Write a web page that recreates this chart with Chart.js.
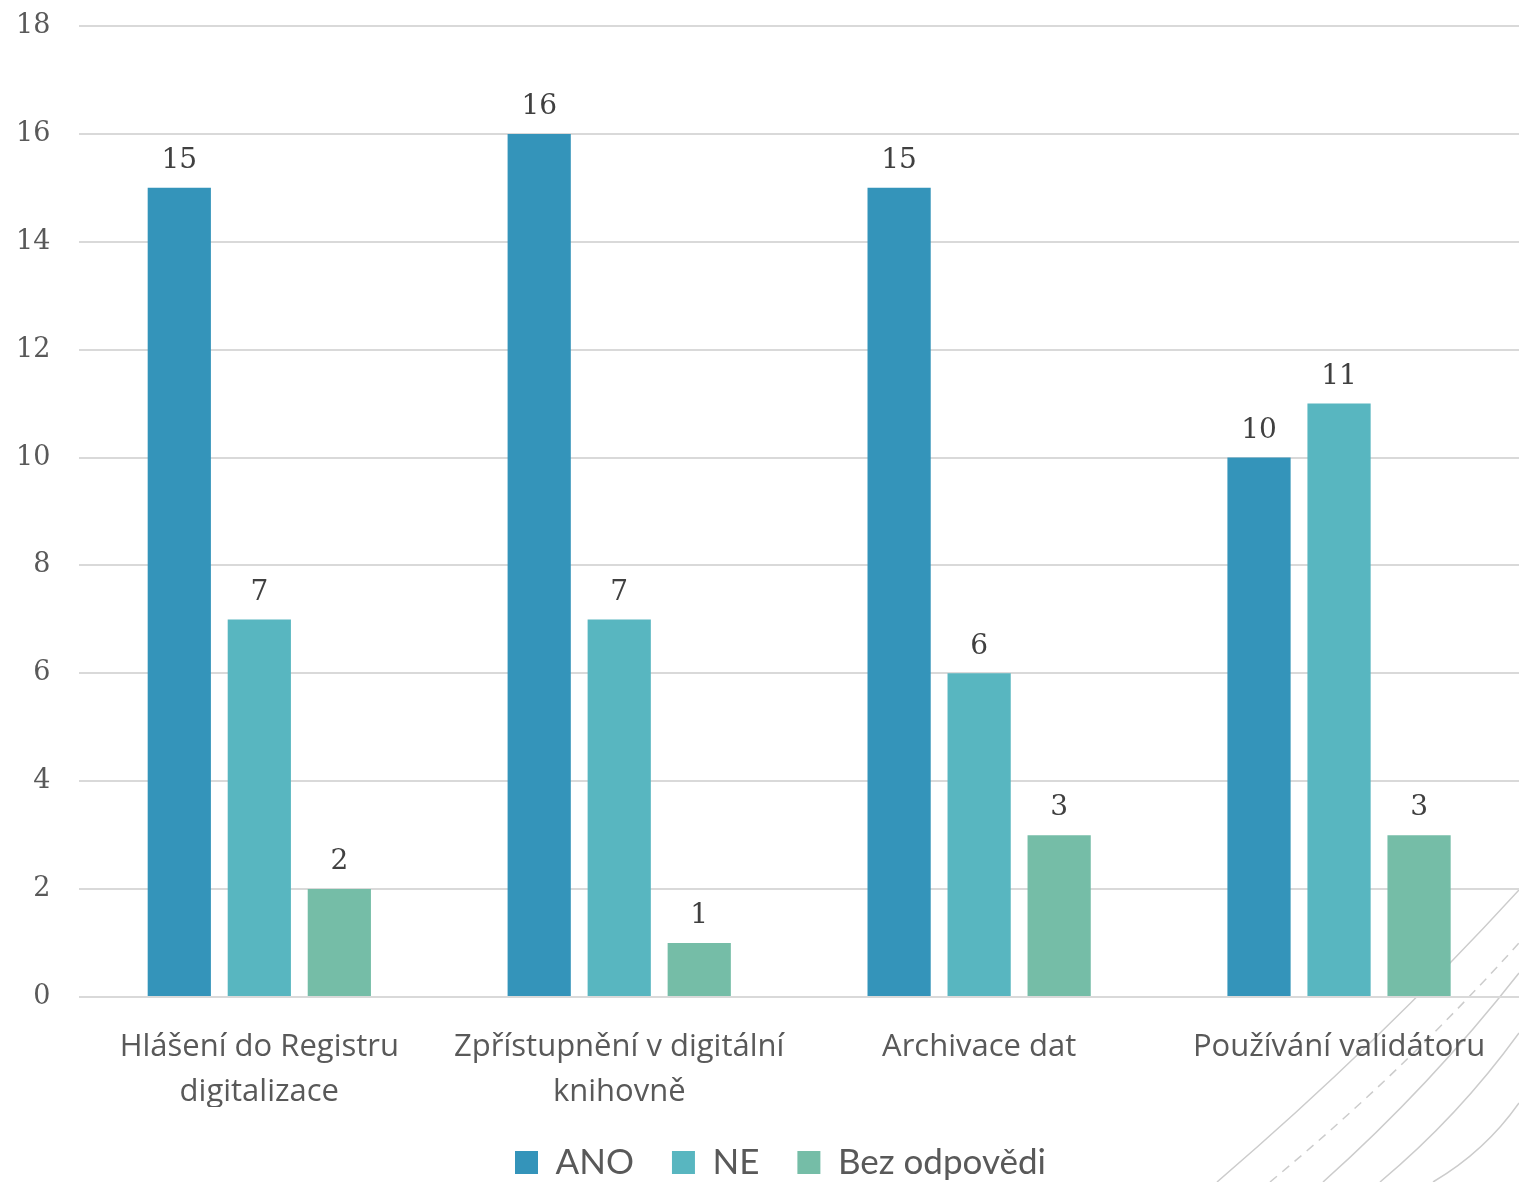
<!DOCTYPE html>
<html>
<head>
<meta charset="utf-8">
<script src="https://cdn.jsdelivr.net/npm/chart.js@4.4.1/dist/chart.umd.min.js"></script>
<style>
  html, body { margin: 0; padding: 0; background: #ffffff; }
  #wrap { width: 1519px; height: 1182px; position: relative; }
</style>
</head>
<body>
<div id="wrap"><canvas id="surveyChart"></canvas></div>
<script>
// data
const categories = [
    ['Hlášení do Registru', 'digitalizace'],
    ['Zpřístupnění v digitální', 'knihovně'],
    'Archivace dat',
    'Používání validátoru'
];
const seriesNames = ['ANO', 'NE', 'Bez odpovědi'];
const anoValues = [15, 16, 15, 10];
const neValues = [7, 7, 6, 11];
const bezValues = [2, 1, 3, 3];
const yTicks = [0, 2, 4, 6, 8, 10, 12, 14, 16, 18];

const colors = ['#3494BA', '#58B6C0', '#75BDA7'];

// values above each bar
const valueLabels = {
    id: 'valueLabels',
    afterDatasetsDraw(chart) {
        const ctx = chart.ctx;
        ctx.save();
        ctx.font = '28px "DejaVu Serif"';
        ctx.fillStyle = '#404040';
        ctx.textAlign = 'center';
        ctx.textBaseline = 'bottom';
        chart.data.datasets.forEach(function(ds, i) {
            chart.getDatasetMeta(i).data.forEach(function(bar, j) {
                ctx.fillText(ds.data[j], bar.x, bar.y - 13);
            });
        });
        ctx.restore();
    }
};

// legend sits a little right of the canvas centre in the original
const legendShift = {
    id: 'legendShift',
    afterLayout(chart) {
        chart.legend.left += 55;
    }
};

// faint curved decoration in the bottom-right corner
const cornerLines = {
    id: 'cornerLines',
    beforeDraw(chart) {
        const ctx = chart.ctx;
        const w = chart.width, h = chart.height;
        // start x on the bottom edge, end y on the right edge, dashed?
        const curves = [
            [1217, 890, false],
            [1270, 943, true],
            [1323, 973, false],
            [1380, 1033, false],
            [1433, 1103, false]
        ];
        ctx.save();
        ctx.strokeStyle = '#cccccc';
        ctx.lineWidth = 1.5;
        curves.forEach(function(c) {
            const mx = (c[0] + w) / 2, my = (h + c[1]) / 2;
            ctx.setLineDash(c[2] ? [9, 7] : []);
            ctx.beginPath();
            ctx.moveTo(c[0], h);
            ctx.quadraticCurveTo(mx + 9, my + 9, w, c[1]);
            ctx.stroke();
        });
        ctx.restore();
    }
};

const ctx = document.getElementById('surveyChart').getContext('2d');
new Chart(ctx, {
    type: 'bar',
    data: {
        labels: categories,
        datasets: [
            { label: seriesNames[0], data: anoValues, backgroundColor: colors[0] },
            { label: seriesNames[1], data: neValues, backgroundColor: colors[1] },
            { label: seriesNames[2], data: bezValues, backgroundColor: colors[2] }
        ]
    },
    options: {
        responsive: true,
        maintainAspectRatio: false,
        animation: false,
        devicePixelRatio: 1,
        datasets: {
            bar: { categoryPercentage: 0.667, barPercentage: 0.79 }
        },
        layout: { padding: { top: 0, left: -13, right: 0, bottom: -8 } },
        plugins: {
            legend: {
                position: 'bottom',
                labels: {
                    boxWidth: 23,
                    boxHeight: 23,
                    padding: 38,
                    color: '#595959',
                    font: { family: 'Lato', size: 35 }
                }
            },
            tooltip: { enabled: false }
        },
        scales: {
            x: {
                grid: { display: false },
                border: { display: false },
                afterFit(scale) { scale.height = 110; },
                ticks: {
                    color: '#595959',
                    font: { family: '"Open Sans"', size: 31, lineHeight: 1.45 },
                    padding: 20,
                    maxRotation: 0
                }
            },
            y: {
                min: 0,
                max: 18,
                afterBuildTicks(axis) {
                    axis.ticks = yTicks.map(function(v) { return { value: v }; });
                },
                afterFit(scale) {
                    scale.paddingTop = 26;
                },
                grid: { color: '#d9d9d9', lineWidth: 2, drawTicks: false },
                border: { display: false },
                ticks: {
                    color: '#595959',
                    font: { family: '"DejaVu Serif"', size: 27 },
                    padding: 29
                }
            }
        }
    },
    plugins: [cornerLines, legendShift, valueLabels]
});
</script>
</body>
</html>
